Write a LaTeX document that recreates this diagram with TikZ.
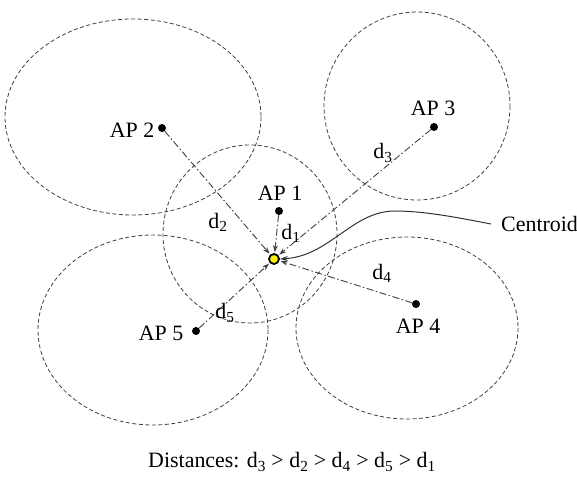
\documentclass[tikz,border=0pt]{standalone}
\usepackage{fontspec}
\setmainfont{Liberation Serif}
\usetikzlibrary{arrows.meta}
\begin{document}
\begin{tikzpicture}[x=1bp,y=-1bp,
  coverage/.style={draw=black!75,dash pattern=on 4bp off 2.5bp,line width=0.8bp},
  apdot/.style={circle,fill=black,inner sep=0pt,minimum size=8bp},
  cen/.style={circle,fill=yellow,draw=black,line width=1.8bp,inner sep=0pt,minimum size=10bp},
  link/.style={draw=black!75,line width=0.9bp,dash pattern=on 7bp off 2.5bp on 1.5bp off 2.5bp,-{Stealth[length=7bp,width=5bp]},shorten >=1bp},
  lab/.style={font=\fontsize{22}{26}\selectfont,inner sep=0pt}]
\useasboundingbox (0,0) rectangle (577,480);
% coverage ellipses
\draw[coverage] (133,117) ellipse [x radius=128, y radius=98];
\draw[coverage] (417,106) ellipse [x radius=93, y radius=94];
\draw[coverage] (250,234) ellipse [x radius=87, y radius=89];
\draw[coverage] (153,330) ellipse [x radius=115, y radius=95];
\draw[coverage] (407,328) ellipse [x radius=111, y radius=91];
% access points
\node[apdot] (ap1) at (279,211) {};
\node[apdot] (ap2) at (162,128) {};
\node[apdot] (ap3) at (434,127) {};
\node[apdot] (ap4) at (416,304) {};
\node[apdot] (ap5) at (196,331) {};
\node[lab] (l1) at (280,193) {AP 1};
\node[lab] (l2) at (132,130) {AP 2};
\node[lab] (l3) at (433,108) {AP 3};
\node[lab] (l4) at (418,326) {AP 4};
\node[lab] (l5) at (161,333) {AP 5};
% centroid
\node[cen] (c) at (274,259) {};
\draw[link] (ap1) -- (c);
\draw[link] (ap2) -- (c);
\draw[link] (ap3) -- (c);
\draw[link] (ap4) -- (c);
\draw[link] (ap5) -- (c);
% distance labels
\node[lab] (d1) at (291,233) {d\textsubscript{1}};
\node[lab] (d2) at (218,222) {d\textsubscript{2}};
\node[lab] (d3) at (383,153) {d\textsubscript{3}};
\node[lab] (d4) at (382,273) {d\textsubscript{4}};
\node[lab] (d5) at (225,313) {d\textsubscript{5}};
% centroid label
\node[lab,anchor=west] (cl) at (501,224) {Centroid};
\coordinate (peak) at (395,211);
\draw[black!80,line width=1bp,-{Stealth[length=8bp,width=5bp]}] ([xshift=-10bp]cl.west) .. controls (460,218) and (425,211) .. (peak) .. controls (352,211) and (330,256) .. (c.east);
% caption
\node[lab] (cap) at (292,462) {Distances: d\textsubscript{3} {>} d\textsubscript{2} {>} d\textsubscript{4} {>} d\textsubscript{5} {>} d\textsubscript{1}};
\end{tikzpicture}
\end{document}
